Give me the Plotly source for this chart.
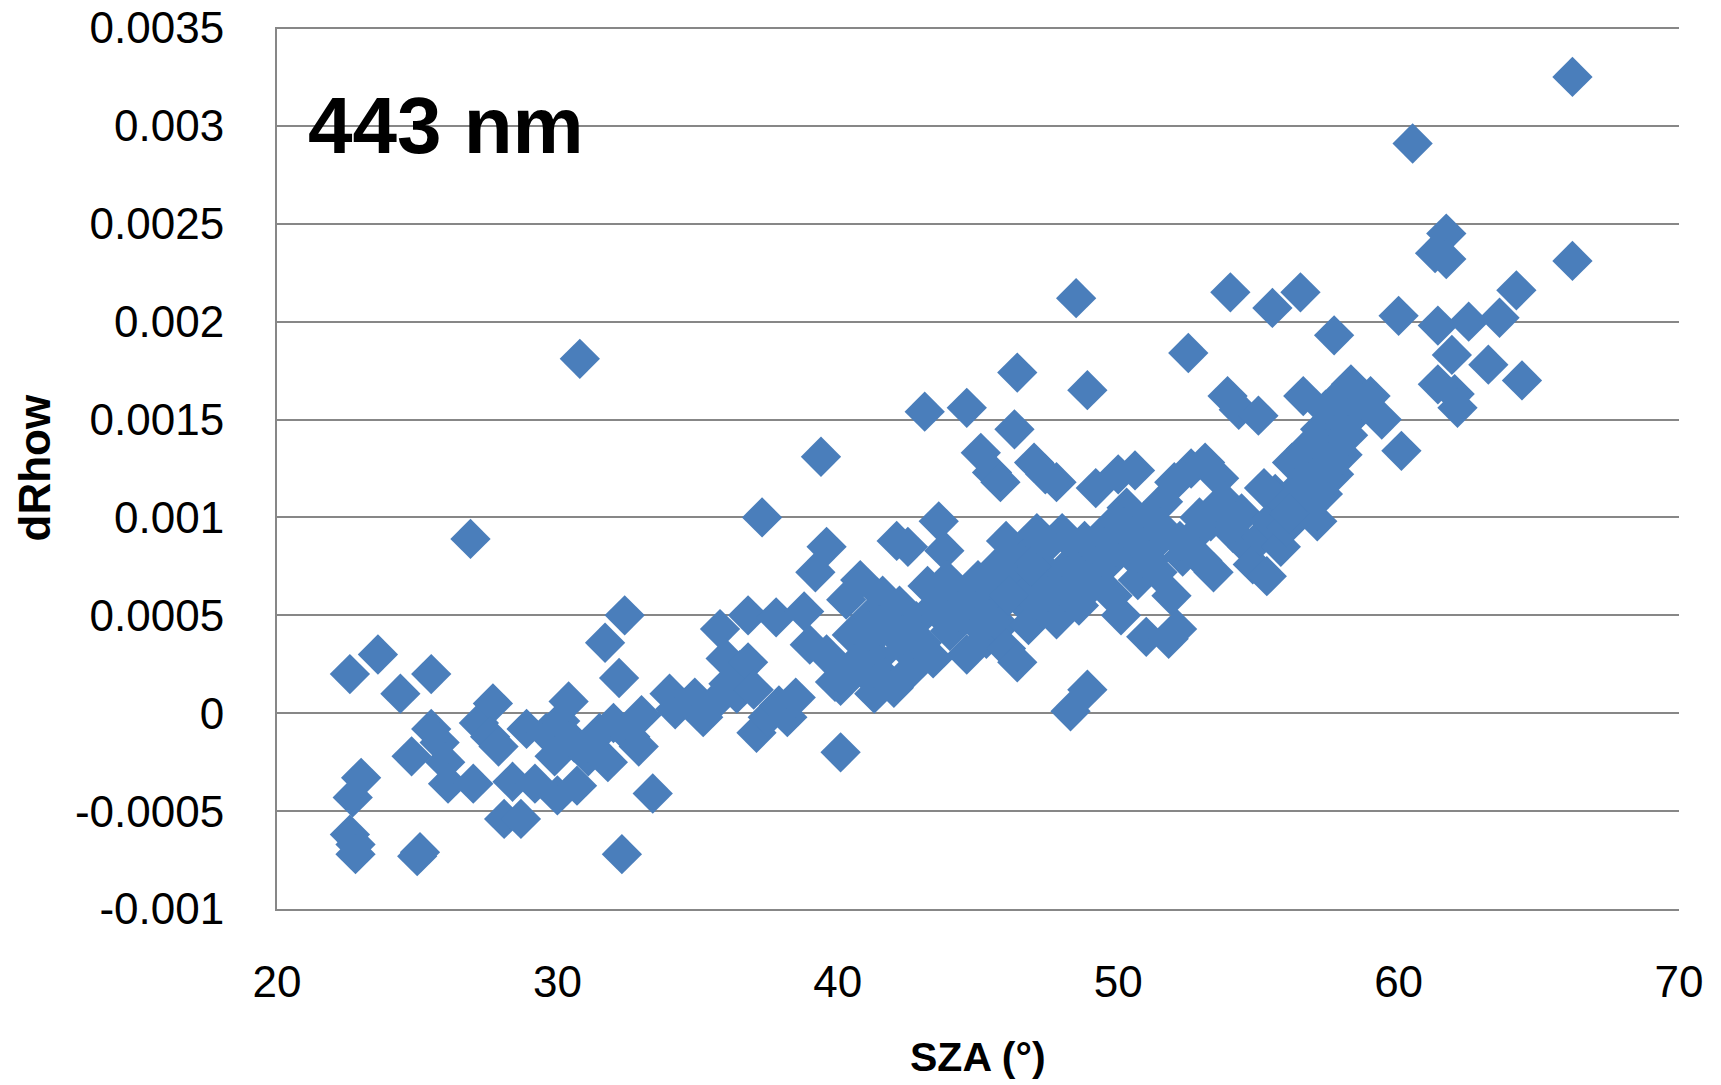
import plotly.graph_objects as go

# Solar zenith angle (deg)
sza = [
    22.6, 22.7, 23.0, 22.6, 22.8, 22.8, 23.6, 24.4, 24.8, 25.0, 25.1, 25.5, 25.5, 25.8, 26.0, 26.1, 27.0, 26.9,
    27.2, 27.7, 27.6, 27.9, 28.1, 28.4, 28.7, 28.9, 29.2, 29.6, 29.9, 30.0, 30.1, 30.4, 30.6, 30.7, 31.1, 30.8,
    31.5, 31.7, 31.8, 32.0, 32.2, 32.3, 32.4, 32.6, 32.9, 33.0, 33.4,
    34.0, 34.2, 34.9, 35.2, 35.5, 35.8, 36.0, 36.1, 36.4, 36.5, 36.8, 37.0, 37.1, 36.8, 37.3, 37.5, 37.8, 37.9,
    38.2, 38.5, 38.8, 39.0, 39.2, 39.4, 39.6, 39.6, 39.9,
    40.1, 40.1, 40.3, 40.5, 40.8, 40.9, 41.0, 41.2, 41.3, 41.4, 41.6, 41.7, 41.9, 42.0, 42.1, 42.2, 42.4, 42.5,
    42.6, 42.8, 43.0, 43.1, 43.2, 43.4, 43.6, 43.8, 43.7, 44.0, 44.2, 44.4, 44.6, 44.6, 44.8,
    45.0, 45.1, 45.2, 45.3, 45.5, 45.6, 45.8, 45.8, 46.0, 46.0, 46.2, 46.3, 46.4, 46.4, 46.5, 46.7, 46.8, 47.0,
    47.0, 47.2, 47.4, 47.4, 47.6, 47.8, 47.8, 48.0, 48.1, 48.3, 48.4, 48.5, 48.6, 48.8, 48.9, 48.9, 49.0, 49.2,
    49.3, 49.5, 49.7, 49.8,
    50.0, 50.1, 50.3, 50.4, 50.6, 50.7, 50.9, 51.0, 51.2, 51.4, 51.6, 51.8, 51.9, 52.0, 52.1, 52.3, 52.5, 52.6,
    52.8, 53.0, 53.1, 53.3, 53.4, 53.6, 53.8, 53.9, 54.0, 54.1, 54.3, 54.4, 54.6, 54.8, 55.0, 55.1, 55.3, 55.5,
    55.4,
    55.6, 55.8, 56.0, 56.2, 56.4, 56.5, 56.6, 56.7, 56.8, 57.0, 57.1, 57.2, 57.3, 57.4, 57.6, 57.7, 57.7, 57.9,
    58.0, 58.1, 58.3, 58.4, 58.7, 59.0, 59.4, 60.0, 60.1, 60.5,
    61.3, 61.4, 61.4, 61.7, 61.7, 61.9, 62.0, 62.1, 62.5, 63.2, 63.6, 64.2, 64.4, 66.2, 66.2,
    # extra points in the dense band
    41.5, 42.3, 43.5, 44.3, 45.4, 46.1, 46.9, 47.5, 48.2, 49.1, 49.9, 50.5, 51.1, 51.5, 52.2, 52.9, 53.5, 54.2,
    55.2, 56.1, 56.9, 57.5, 58.2, 40.6, 41.1, 43.9, 45.7, 47.1, 48.7, 50.2,
]

# dRhow at 443 nm
drhow = [
    0.0002, -0.00043, -0.00033, -0.00062, -0.00067, -0.00072, 0.0003, 0.0001, -0.00022, -0.00073, -0.00071, 0.0002, -0.00008, -0.00015, -0.00025, -0.00036, -0.00036, 0.00089,
    -0.00005, 0.00005, -0.00012, -0.00017, -0.00054, -0.00035, -0.00054, -0.00008, -0.00036, -0.0001, -0.00022, -0.00042, -0.00004, 0.00006, -0.00015, -0.00037, -0.00022, 0.00181,
    -0.0001, 0.00036, -0.00025, -0.00005, 0.00018, -0.00072, 0.0005, -0.00012, -0.00017, -0.00001, -0.00041,
    0.0001, 0.00002, 0.00008, -0.00002, 0.00004, 0.00043, 0.00028, 0.00015, 0.0001, 0.00022, 0.00026, 0.00012, -0.0001, 0.0005, 0.001, -0.00002, 0.00049, 0.00004,
    -0.00002, 0.00008, 0.00052, 0.00035, 0.00072, 0.00131, 0.00085, 0.0003, 0.00016,
    -0.0002, 0.00014, 0.00058, 0.0004, 0.00068, 0.00022, 0.00035, 0.0005, 0.0001, 0.00028, 0.0006, 0.00018, 0.00042, 0.00013, 0.00088, 0.00055, 0.00033, 0.00085,
    0.00022, 0.00047, 0.00036, 0.00154, 0.00065, 0.00028, 0.00098, 0.00083, 0.0005, 0.00042, 0.00062, 0.00058, 0.00156, 0.0003, 0.00048,
    0.00068, 0.00133, 0.00055, 0.00038, 0.00123, 0.00062, 0.00118, 0.00045, 0.00088, 0.00033, 0.00072, 0.00145, 0.00174, 0.00026, 0.00058, 0.0008, 0.00045, 0.00128,
    0.00065, 0.00055, 0.00122, 0.00085, 0.0007, 0.00118, 0.00048, 0.00092, 0.00062, 0.00001, 0.00078, 0.00212, 0.00055, 0.00088, 0.00165, 0.00012, 0.00068, 0.00115,
    0.00082, 0.00075, 0.00095, 0.0006,
    0.00122, 0.0005, 0.00105, 0.00082, 0.00124, 0.00068, 0.00098, 0.00039, 0.00085, 0.00072, 0.00108, 0.00038, 0.0006, 0.00118, 0.00043, 0.0008, 0.00184, 0.00125,
    0.00092, 0.00078, 0.00128, 0.00098, 0.00072, 0.0012, 0.00108, 0.00162, 0.00215, 0.00092, 0.00155, 0.00102, 0.00085, 0.00076, 0.00152, 0.0009, 0.0007, 0.00207,
    0.00098,
    0.00112, 0.00085, 0.00095, 0.00128, 0.00115, 0.00215, 0.00162, 0.00135, 0.00105, 0.00125, 0.00098, 0.00145, 0.00112, 0.00155, 0.00135, 0.00193, 0.00122, 0.00162,
    0.00132, 0.00148, 0.00168, 0.00152, 0.00158, 0.00162, 0.0015, 0.00203, 0.00134, 0.00291,
    0.00235, 0.00198, 0.00168, 0.00245, 0.00232, 0.00183, 0.00163, 0.00156, 0.002, 0.00178, 0.00202, 0.00216, 0.0017, 0.00325, 0.00231,
    0.00045, 0.0004, 0.00055, 0.00052, 0.00048, 0.0006, 0.00075, 0.00062, 0.0007, 0.00066, 0.00085, 0.0009, 0.00078, 0.00095, 0.00088, 0.001, 0.00105, 0.00098,
    0.00115, 0.00102, 0.0012, 0.00128, 0.00142, 0.00025, 0.00042, 0.00068, 0.00075, 0.00092, 0.0007, 0.00095,
]

x_ticks = [20, 30, 40, 50, 60, 70]
y_ticks = [-0.001, -0.0005, 0, 0.0005, 0.001, 0.0015, 0.002, 0.0025, 0.003, 0.0035]
y_ticktext = ["-0.001", "-0.0005", "0", "0.0005", "0.001", "0.0015", "0.002", "0.0025", "0.003", "0.0035"]

FONT = "Liberation Sans"
GRID = "#878787"

fig = go.Figure()
fig.add_trace(go.Scatter(
    x=sza, y=drhow, mode="markers",
    marker=dict(symbol="diamond", size=31, color="#4A7EBB", line=dict(width=0)),
    showlegend=False,
))

fig.update_layout(
    width=1721, height=1085,
    margin=dict(l=277, r=42, t=27, b=176, autoexpand=False),
    paper_bgcolor="white", plot_bgcolor="white",
    font=dict(family=FONT, color="black"),
    xaxis=dict(
        range=[20, 70], tickvals=x_ticks, showgrid=False, zeroline=False,
        showline=True, linecolor=GRID, linewidth=2, automargin=False,
        ticks="", ticklabelstandoff=33, tickfont=dict(size=44, family=FONT),
    ),
    yaxis=dict(
        range=[-0.001, 0.003505], tickvals=y_ticks, ticktext=y_ticktext,
        showgrid=True, gridcolor=GRID, gridwidth=2, zeroline=False,
        showline=True, linecolor=GRID, linewidth=2, automargin=False,
        ticks="", ticklabelstandoff=42, tickfont=dict(size=44, family=FONT),
    ),
    shapes=[
        dict(type="line", xref="paper", x0=0, x1=1, yref="y",
             y0=y_ticks[-1], y1=y_ticks[-1], layer="below",
             line=dict(color=GRID, width=2)),
    ],
    annotations=[
        dict(text="<b>443 nm</b>", xref="paper", yref="paper", x=0.021, y=0.888,
             xanchor="left", yanchor="middle", showarrow=False,
             font=dict(size=80, family=FONT, color="black")),
        dict(text="<b>SZA (°)</b>", xref="paper", yref="paper", x=0.5, y=-0.168,
             xanchor="center", yanchor="middle", showarrow=False,
             font=dict(size=41, family=FONT, color="black")),
        dict(text="<b>dRhow</b>", xref="paper", yref="paper", x=-0.173, y=0.5,
             xanchor="center", yanchor="middle", showarrow=False, textangle=-90,
             font=dict(size=44, family=FONT, color="black")),
    ],
)

fig.write_html("out.html")
